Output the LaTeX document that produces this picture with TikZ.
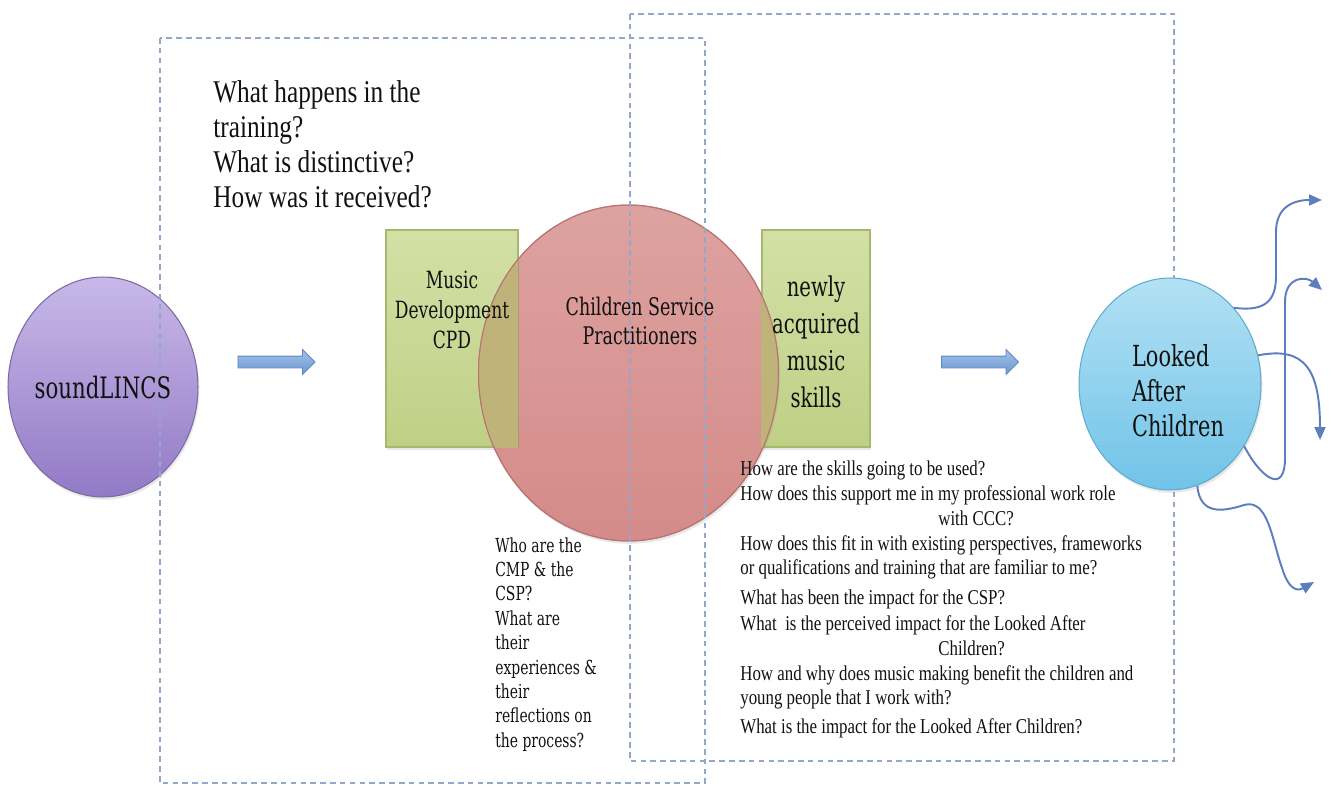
\documentclass[tikz,border=0pt]{standalone}
\usepackage{fontspec}
\setmainfont{Liberation Serif}
\newfontfamily\timesq[FakeStretch=0.8]{Liberation Serif}
\newfontfamily\camq[FakeStretch=0.8]{DejaVu Serif Condensed}
\usetikzlibrary{shapes.geometric,shapes.arrows,arrows.meta,shadows}

\definecolor{framec}{HTML}{93A7CA}
\definecolor{purptop}{HTML}{C8B8E8}
\definecolor{purpbot}{HTML}{927AC6}
\definecolor{purpline}{HTML}{7D68A6}
\definecolor{greentop}{HTML}{D3E0A6}
\definecolor{greenbot}{HTML}{BFD085}
\definecolor{greenline}{HTML}{A5B86E}
\definecolor{redtop}{HTML}{DDA2A0}
\definecolor{redbot}{HTML}{D48B89}
\definecolor{redline}{HTML}{B87572}
\definecolor{overlapc}{HTML}{C0B37A}
\definecolor{bluetop}{HTML}{B3E1F4}
\definecolor{bluebot}{HTML}{70C3E8}
\definecolor{blueline}{HTML}{62ABCE}
\definecolor{arrowtop}{HTML}{A0C2EC}
\definecolor{arrowbot}{HTML}{6E97D0}
\definecolor{arrowline}{HTML}{6088C0}
\definecolor{curvec}{HTML}{5C7EBE}
\definecolor{textc}{HTML}{111111}

\begin{document}
\begin{tikzpicture}[x=0.02cm,y=-0.02cm,
  frame/.style={draw=framec, line width=0.65pt, dash pattern=on 3.2pt off 2.4pt},
  softshadow/.style={drop shadow={opacity=0.18, shadow xshift=0.8pt, shadow yshift=-1.6pt}},
  greenbox/.style={draw=greenline, line width=0.6pt, top color=greentop,
    bottom color=greenbot, minimum width=#1, minimum height=4.34cm, inner sep=0, softshadow},
  blockarrow/.style={single arrow, draw=arrowline, top color=arrowtop, bottom color=arrowbot,
    line width=0.5pt, minimum height=1.54cm, minimum width=0.48cm, inner xsep=0,
    inner ysep=0.11cm, text height=0pt, text depth=0pt, single arrow head extend=0.13cm},
  outflow/.style={draw=curvec, line width=1.1pt, -{Triangle[length=0.26cm,width=0.22cm]}},
  camtext/.style={text=textc, inner sep=0},
  qtext/.style={text=textc, inner sep=0, anchor=base west, font=\timesq\fontsize{12}{14}\selectfont}
]
\useasboundingbox (0,0) rectangle (1335,787);

% soundLINCS
\node[ellipse, draw=purpline, line width=0.6pt, top color=purptop, bottom color=purpbot,
  minimum width=3.8cm, minimum height=4.4cm, inner sep=0, softshadow] (sl) at (103,387) {};

% training boxes and the practitioners circle
\node[greenbox=2.64cm] (mdbox) at (452,338.5) {};
\node[greenbox=2.16cm] (nbox) at (816,338.5) {};
\node[ellipse, draw=redline, line width=0.6pt, top color=redtop, bottom color=redbot,
  minimum width=6.0cm, minimum height=6.72cm, inner sep=0, softshadow] (csp) at (628.5,373) {};
\begin{scope}
  \clip (csp.center) ellipse [x radius=3cm, y radius=3.36cm];
  \fill[overlapc] (mdbox.south west) rectangle (mdbox.north east);
  \fill[overlapc] (nbox.south west) rectangle (nbox.north east);
  \draw[greenline!80!black, line width=0.4pt, opacity=0.5] (mdbox.north east) -- (mdbox.south east);
\end{scope}
\draw[redline, line width=0.6pt] (csp.center) ellipse [x radius=3cm, y radius=3.36cm];

% dashed frames
\draw[frame] (160,38) rectangle (705,783);
\draw[frame] (630,14) rectangle (1174,761);

% Looked After Children
\node[ellipse, draw=blueline, line width=0.6pt, top color=bluetop, bottom color=bluebot,
  minimum width=3.64cm, minimum height=4.24cm, inner sep=0, softshadow] (lac) at (1170,384) {};

% block arrows
\node[blockarrow] (ba1) at (273.5,362) {};
\node[blockarrow] (ba2) at (977,362) {};

% outgoing curved arrows
\coordinate (o1) at (1322,200);
\coordinate (o2) at (1322,290);
\coordinate (o3) at (1320,440);
\coordinate (o4) at (1314,582);
\draw[outflow] (lac.50) .. controls (1266,312) and (1276,300) .. (1276,276)
  -- (1276,232) .. controls (1276,208) and (1292,200) .. (o1);
\draw[outflow] (lac.-40) .. controls (1262,480) and (1285,494) .. (1285,458)
  -- (1285,302) .. controls (1285,276) and (1306,276) .. (o2);
\draw[outflow] (lac.18) .. controls (1305,346) and (1320,370) .. (o3);
\draw[outflow] (lac.-75) .. controls (1200,515) and (1222,512) .. (1244,505)
  .. controls (1268,498) and (1272,540) .. (1282,568)
  .. controls (1290,594) and (1300,590) .. (o4);

% labels
\node[camtext, font=\camq\fontsize{16.8}{20}\selectfont] (sltext) at (sl.center) {soundLINCS};
\node[camtext, align=center, anchor=north, font=\camq\fontsize{13.5}{17}\selectfont] (mdtext) at (452,271) {Music\\Development\\CPD};
\node[camtext, align=center, anchor=north, font=\camq\fontsize{13.8}{16.5}\selectfont] (csptext) at (640,297) {Children Service\\Practitioners};
\node[camtext, align=center, font=\camq\fontsize{15.5}{21}\selectfont] (ntext) at (816,342) {newly\\acquired\\music\\skills};
\node[camtext, align=left, font=\camq\fontsize{16.5}{20}\selectfont] (lactext) at (1178,391) {Looked\\After\\Children};

\node[text=textc, inner sep=0, anchor=north west, align=left,
  font=\timesq\fontsize{18}{20}\selectfont] (topq) at (213,80)
  {What happens in the\\training?\\What is distinctive?\\How was it received?};

\node[camtext, anchor=north west, align=left, font=\camq\fontsize{11}{13.9}\selectfont] (whoq) at (495,537)
  {Who are the\\CMP \& the\\CSP?\\What are\\their\\experiences \&\\their\\reflections on\\the process?};

\node[qtext] (rq1) at (740,475) {How are the skills going to be used?};
\node[qtext] (rq2) at (740,500) {How does this support me in my professional work role};
\node[qtext] (rq3) at (938,525) {with CCC?};
\node[qtext] (rq4) at (740,550) {How does this fit in with existing perspectives, frameworks};
\node[qtext] (rq5) at (740,574) {or qualifications and training that are familiar to me?};
\node[qtext] (rq6) at (740,604) {What has been the impact for the CSP?};
\node[qtext] (rq7) at (740,630) {What\ \ is the perceived impact for the Looked After};
\node[qtext] (rq8) at (938,655) {Children?};
\node[qtext] (rq9) at (740,680) {How and why does music making benefit the children and};
\node[qtext] (rq10) at (740,704) {young people that I work with?};
\node[qtext] (rq11) at (740,733) {What is the impact for the Looked After Children?};
\end{tikzpicture}
\end{document}
